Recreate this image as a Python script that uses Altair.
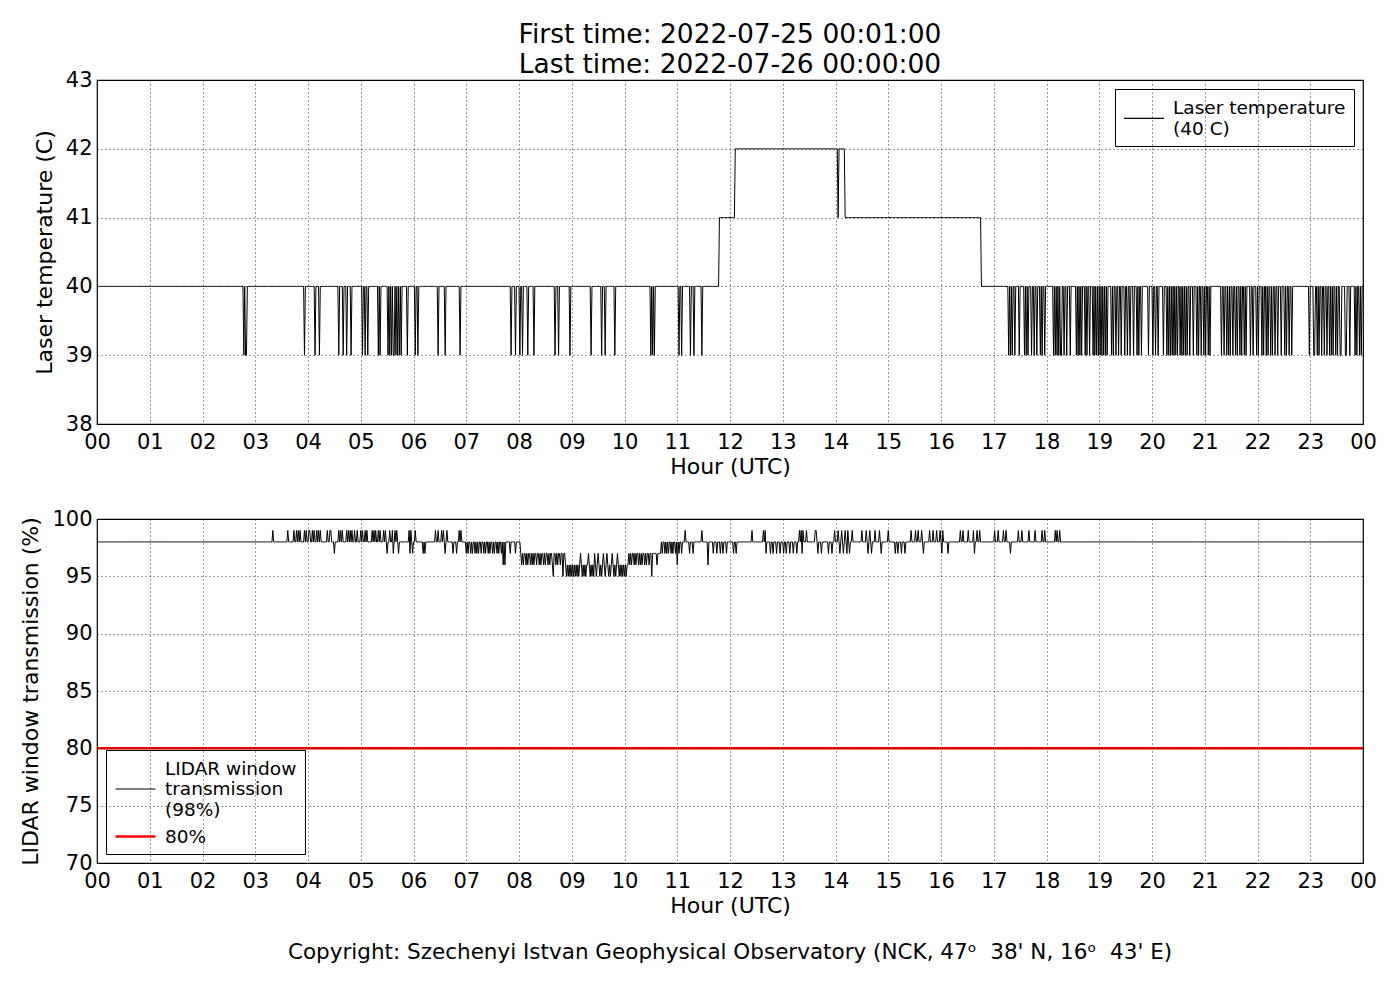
import altair as alt
import pandas as pd

TITLE_LINES = ["First time: 2022-07-25 00:01:00", "Last time: 2022-07-26 00:00:00"]
FOOTER = "Copyright: Szechenyi Istvan Geophysical Observatory (NCK, 47\u1d52\u00a0\u00a038' N, 16\u1d52\u00a0\u00a043' E)"
X_TITLE = "Hour (UTC)"
TOP_Y_TITLE = "Laser temperature (C)"
BOT_Y_TITLE = "LIDAR window transmission (%)"
TOP_SERIES = "Laser temperature|(40 C)"
BOT_SERIES = "LIDAR window|transmission|(98%)"
LIMIT_SERIES = "80%"
LIMIT_VALUE = [80]

hour_ticks = list(range(0, 25))
top_y_ticks = [38, 39, 40, 41, 42, 43]
bot_y_ticks = [70, 75, 80, 85, 90, 95, 100]

# ---- laser temperature: level segments (start hour, level) + one-minute dips to 39 C
temp_seg_start = [0.0, 11.80, 12.10, 14.04, 14.06, 14.18, 16.76]
temp_seg_level = [40, 41, 42, 41, 42, 41, 40]
temp_dip_value = 39
temp_dip_hours = [
    2.79, 2.81, 2.84, 3.93, 4.14, 4.22, 4.59, 4.66, 4.74, 4.82,
    5.03, 5.09, 5.14, 5.33, 5.36, 5.52, 5.55, 5.58, 5.61, 5.64, 5.67, 5.70, 5.74, 5.77,
    5.89, 6.04, 6.08, 6.47, 6.60, 6.89,
    7.85, 7.94, 8.02, 8.06, 8.17, 8.29, 8.68, 8.75, 8.96,
    9.37, 9.57, 9.64, 9.81, 10.50, 10.53, 10.57,
    11.04, 11.09, 11.25, 11.32, 11.46,
    17.28, 17.31, 17.35, 17.40, 17.49, 17.59, 17.62, 17.65, 17.72, 17.76, 17.81, 17.88, 17.92, 17.97,
    18.13, 18.16, 18.20, 18.23, 18.26, 18.29, 18.33, 18.38, 18.45, 18.56, 18.60, 18.63, 18.67,
    18.73, 18.77, 18.82, 18.89, 18.92, 18.95, 18.99, 19.02, 19.05, 19.08, 19.11, 19.15,
    19.23, 19.27, 19.31, 19.36, 19.41, 19.49, 19.53, 19.58, 19.65, 19.71, 19.75, 19.80, 19.93,
    20.02, 20.07, 20.12, 20.21, 20.28, 20.31, 20.35, 20.38, 20.42, 20.45, 20.49, 20.53, 20.57,
    20.60, 20.63, 20.66, 20.72, 20.78, 20.85, 20.88, 20.94, 20.98, 21.02, 21.06, 21.10,
    21.32, 21.37, 21.42, 21.45, 21.48, 21.54, 21.58, 21.62, 21.66, 21.70, 21.75, 21.79,
    21.86, 21.92, 21.98, 22.02, 22.08, 22.12, 22.16, 22.20, 22.25, 22.29, 22.33, 22.39,
    22.45, 22.52, 22.55, 22.60, 22.65,
    22.99, 23.06, 23.09, 23.13, 23.17, 23.21, 23.26, 23.31, 23.37, 23.40, 23.44, 23.48,
    23.52, 23.56, 23.59, 23.66, 23.69, 23.75, 23.85, 23.88, 23.94, 23.97,
]

# ---- window transmission: base segments + one-minute excursions to given values
trans_seg_start = [0.0, 8.02, 8.87, 10.07, 10.70]
trans_seg_level = [98, 97, 96, 97, 98]
trans_99_hours = [
    3.34, 3.61, 3.74, 3.78, 3.82, 3.85, 3.93, 3.97, 4.01, 4.04, 4.08, 4.12, 4.16, 4.20, 4.24,
    4.37, 4.41, 4.44, 4.58, 4.62, 4.65, 4.73, 4.77, 4.80, 4.83, 4.89, 4.93, 5.00, 5.04,
    5.08, 5.12, 5.21, 5.25, 5.29, 5.33, 5.37, 5.43, 5.47, 5.55, 5.60, 5.65, 5.69,
    5.91, 5.95, 6.03, 6.42, 6.46, 6.53, 6.57, 6.63, 6.86, 6.90,
    11.15, 11.46, 12.41, 12.63, 12.66, 13.31, 13.35, 13.39, 13.45, 13.61, 13.64,
    13.99, 14.05, 14.12, 14.18, 14.24, 14.31, 14.50, 14.59, 14.65, 14.75, 14.84, 15.00,
    15.44, 15.51, 15.57, 15.63, 15.79, 15.85, 15.92, 15.98, 16.04,
    16.36, 16.42, 16.52, 16.61, 16.68, 16.74, 17.02, 17.09, 17.18, 17.24,
    17.47, 17.53, 17.66, 17.78, 17.91, 17.97, 18.16, 18.20, 18.25,
]
trans_97_hours = [
    4.50, 5.50, 5.62, 5.72, 5.93, 5.99, 6.19, 6.22, 6.60, 6.75, 6.82,
    7.00, 7.04, 7.08, 7.12, 7.16, 7.20, 7.24, 7.28, 7.33, 7.37, 7.41, 7.45, 7.50,
    7.54, 7.58, 7.62, 7.66, 7.84, 7.93,
    9.16, 9.31, 9.44, 9.50, 9.60, 9.66, 9.76, 9.86,
    10.72, 10.76, 10.80, 10.84, 10.88, 10.92, 10.96, 11.04, 11.08,
    11.24, 11.30, 11.68, 11.75, 11.81, 11.87, 11.94, 12.06, 12.11,
    12.69, 12.76, 12.82, 12.88, 12.95, 13.01, 13.07, 13.14, 13.20, 13.26, 13.36,
    13.67, 13.74, 13.86, 13.93, 14.08, 14.15, 14.21, 14.27, 14.62, 14.68, 14.87,
    15.13, 15.19, 15.25, 15.32, 15.66, 16.01, 16.14, 16.63, 17.31,
]
trans_96_hours = [
    7.70, 7.74, 8.05, 8.09, 8.13, 8.17, 8.21, 8.25, 8.29, 8.33, 8.38, 8.42, 8.46, 8.50,
    8.55, 8.59, 8.63, 8.70, 8.74, 8.78,
    10.10, 10.14, 10.18, 10.22, 10.26, 10.30, 10.34, 10.38, 10.42, 10.46, 10.62,
    11.00, 11.59,
]
trans_95_hours = [
    8.65, 8.84, 8.90, 8.93, 8.96, 9.00, 9.03, 9.07, 9.10, 9.13, 9.20, 9.23, 9.27, 9.35,
    9.38, 9.41, 9.47, 9.53, 9.56, 9.63, 9.70, 9.73, 9.80, 9.83, 9.90, 9.93, 9.96,
    10.00, 10.03, 10.52,
]

# ---- build one-minute series (00:01 .. 24:00) from the lists above
minutes = list(range(1, 1441))


def level_at(h, starts, levels):
    lvl = levels[0]
    for s, v in zip(starts, levels):
        if h >= s:
            lvl = v
    return lvl


temp_vals = {m: level_at(m / 60, temp_seg_start, temp_seg_level) for m in minutes}
for h in temp_dip_hours:
    temp_vals[int(round(h * 60))] = temp_dip_value

trans_vals = {m: level_at(m / 60, trans_seg_start, trans_seg_level) for m in minutes}
for value, hours in [(99, trans_99_hours), (97, trans_97_hours), (96, trans_96_hours), (95, trans_95_hours)]:
    for h in hours:
        trans_vals[int(round(h * 60))] = value

top_df = pd.DataFrame({"hour": [m / 60 for m in minutes], "value": [temp_vals[m] for m in minutes],
                       "series": TOP_SERIES})
bot_df = pd.DataFrame({"hour": [m / 60 for m in minutes], "value": [trans_vals[m] for m in minutes],
                       "series": BOT_SERIES})
limit_df = pd.DataFrame({"value": LIMIT_VALUE, "series": [LIMIT_SERIES]})

FONT = "DejaVu Sans"
W, H = 1266, 344

label_expr = "(datum.value % 24 < 10 ? '0' : '') + (datum.value % 24)"

x_axis = alt.Axis(values=hour_ticks, labelExpr=label_expr, title=X_TITLE, ticks=False,
                  labelFontSize=21, titleFontSize=22, labelPadding=7, titlePadding=4,
                  titleFontWeight="normal", labelFlush=False, zindex=1)
x_enc = alt.X("hour:Q", scale=alt.Scale(domain=[0, 24], nice=False), axis=x_axis)

legend_common = dict(title=None, symbolSize=400, labelFontSize=18.5, labelFont=FONT,
                     strokeColor="black", fillColor="white", padding=8, offset=9, cornerRadius=0,
                     labelLimit=0, labelOffset=28, labelColor="black", symbolStrokeWidth=1.2,
                     labelExpr="split(datum.label, '|')", rowPadding=6)

top_line = alt.Chart(top_df).mark_line(strokeWidth=1, interpolate="linear").encode(
    x=x_enc,
    y=alt.Y("value:Q", scale=alt.Scale(domain=[38, 43], nice=False),
            axis=alt.Axis(values=top_y_ticks, title=TOP_Y_TITLE, ticks=False, labelFontSize=21,
                          titleFontSize=22, labelPadding=5, titlePadding=9, titleFontWeight="normal",
                          zindex=1)),
    color=alt.Color("tseries:N", scale=alt.Scale(domain=[TOP_SERIES], range=["black"]),
                    legend=alt.Legend(orient="top-right", symbolType="M -1 1.03 L 3 1.03",
                                      **legend_common)),
).transform_calculate(tseries="datum.series")
top = top_line.properties(
    width=W, height=H,
    title=alt.TitleParams(text=TITLE_LINES, fontSize=26.5, font=FONT, fontWeight="normal",
                          anchor="middle", lineHeight=30, offset=-9, color="black"),
)

bot_symbol = alt.ExprRef(expr="datum.value == '80%' ? 'M -1 0 L 3 0' : 'M -1 2.05 L 3 2.05'")
bot_legend = alt.Legend(orient="bottom-left", symbolType=bot_symbol, **legend_common)
bot_y = alt.Y("value:Q", scale=alt.Scale(domain=[70, 100], nice=False),
              axis=alt.Axis(values=bot_y_ticks, title=BOT_Y_TITLE, ticks=False, labelFontSize=21,
                            titleFontSize=22, labelPadding=5, titlePadding=9, titleFontWeight="normal",
                            zindex=1))
bot_color = alt.Color("series:N", scale=alt.Scale(domain=[BOT_SERIES, LIMIT_SERIES], range=["black", "red"]),
                      legend=bot_legend)
bot_width = alt.StrokeWidth("series:N", scale=alt.Scale(domain=[BOT_SERIES, LIMIT_SERIES], range=[1, 2.5]),
                            legend=bot_legend)

bot_line = alt.Chart(bot_df).mark_line(interpolate="linear").encode(
    x=x_enc, y=bot_y, color=bot_color, strokeWidth=bot_width)
limit_rule = alt.Chart(limit_df).mark_rule().encode(y=bot_y, color=bot_color, strokeWidth=bot_width)

bottom = alt.layer(bot_line, limit_rule).properties(
    width=W, height=H,
    title=alt.TitleParams(text=FOOTER, orient="bottom", fontSize=21.5, font=FONT, fontWeight="normal",
                          anchor="middle", offset=26, color="black"),
)

chart = alt.vconcat(top, bottom, spacing=29).resolve_scale(
    color="independent", strokeWidth="independent", y="independent"
).resolve_legend(color="independent", strokeWidth="independent").properties(
    padding={"left": 11, "top": 12, "right": 10, "bottom": 5}
).configure(font=FONT).configure_view(stroke="black", strokeWidth=1.2).configure_axis(
    grid=True, gridColor="black", gridDash=[1, 3], gridWidth=0.8, gridOpacity=1,
    domain=False, labelColor="black", titleColor="black", labelFont=FONT, titleFont=FONT,
).configure_legend(labelFont=FONT)

chart.save("out.html", embed_options={"renderer": "svg", "actions": False})
